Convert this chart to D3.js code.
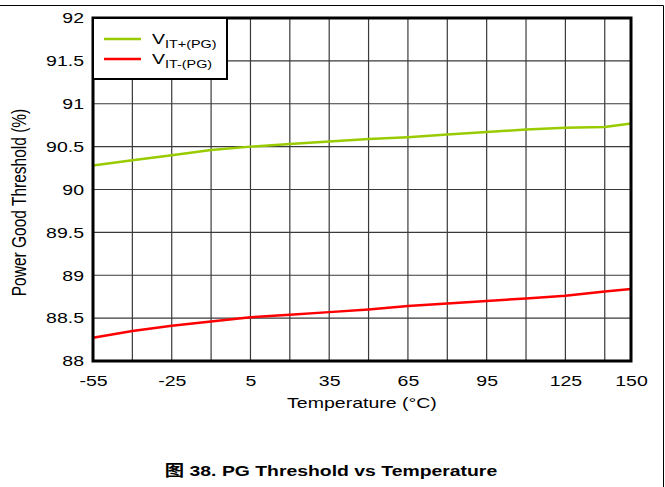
<!DOCTYPE html>
<html>
<head>
<meta charset="utf-8">
<script src="https://cdn.jsdelivr.net/npm/d3@7"></script>
<style>
  body { margin: 0; background: #fff; }
  text { font-family: "Liberation Sans", Arial, sans-serif; fill: #000; }
</style>
</head>
<body>
<div id="chart"></div>
<script>
// data
var temps = [-55, -40, -25, -10, 5, 20, 35, 50, 65, 80, 95, 110, 125, 140, 150];
var vitPlus = [90.28, 90.34, 90.40, 90.46, 90.50, 90.53, 90.56, 90.59, 90.61, 90.64, 90.67, 90.70, 90.72, 90.73, 90.77];
var vitMinus = [88.27, 88.35, 88.41, 88.46, 88.51, 88.54, 88.57, 88.60, 88.64, 88.67, 88.70, 88.73, 88.76, 88.81, 88.84];
var xTicks = [-55, -25, 5, 35, 65, 95, 125, 150];
var xGrid = [-40, -25, -10, 5, 20, 35, 50, 65, 80, 95, 110, 125, 140];
var yTicks = [88, 88.5, 89, 89.5, 90, 90.5, 91, 91.5, 92];

(function(){
  var W = 665, H = 487;
  var margin = {left: 93, top: 18, right: 34, bottom: 126};
  var width = W - margin.left - margin.right,
      height = H - margin.top - margin.bottom;
  var SX = 1.3; // the source text is drawn wide

  // widen horizontal text to match the reference
  function stretch(sel, f) {
    sel.each(function(){
      var len = this.getComputedTextLength();
      d3.select(this).attr("textLength", len * f).attr("lengthAdjust", "spacingAndGlyphs");
    });
  }

  var svg = d3.select("#chart").append("svg")
      .attr("width", W).attr("height", H);

  // outer frame (top + right edge)
  svg.append("line").attr("x1", 0).attr("x2", 663.5).attr("y1", 5.5).attr("y2", 5.5)
    .attr("stroke", "#000").attr("stroke-width", 1);
  svg.append("line").attr("x1", 663.5).attr("x2", 663.5).attr("y1", 5.5).attr("y2", H)
    .attr("stroke", "#000").attr("stroke-width", 1);

  var g = svg.append("g")
      .attr("transform", "translate(" + margin.left + "," + margin.top + ")");

  var x = d3.scaleLinear().domain([-55, 150]).range([0, width]);
  var y = d3.scaleLinear().domain([88, 92]).range([height, 0]);

  ///////////////////// grid
  g.append("g")
    .selectAll("line.v").data(xGrid).enter().append("line")
      .attr("x1", function(d){ return x(d); }).attr("x2", function(d){ return x(d); })
      .attr("y1", 0).attr("y2", height)
      .attr("stroke", "#3a3a3a").attr("stroke-width", 1.2);
  g.append("g")
    .selectAll("line.h").data(yTicks.slice(1, -1)).enter().append("line")
      .attr("x1", 0).attr("x2", width)
      .attr("y1", function(d){ return y(d); }).attr("y2", function(d){ return y(d); })
      .attr("stroke", "#3a3a3a").attr("stroke-width", 1.2);

  ///////////////////// lines
  var line = d3.line()
    .x(function(d){ return x(d[0]); })
    .y(function(d){ return y(d[1]); });

  g.append("path")
    .datum(d3.zip(temps, vitPlus))
    .attr("fill", "none").attr("stroke", "#99cc00").attr("stroke-width", 2.5)
    .attr("d", line);
  g.append("path")
    .datum(d3.zip(temps, vitMinus))
    .attr("fill", "none").attr("stroke", "#ff0000").attr("stroke-width", 2.5)
    .attr("d", line);

  ///////////////////// plot border
  g.append("rect")
    .attr("x", 0).attr("y", 0).attr("width", width).attr("height", height)
    .attr("fill", "none").attr("stroke", "#000").attr("stroke-width", 3);

  ///////////////////// axes (labels only)
  var xAxis = g.append("g")
    .attr("transform", "translate(0," + height + ")")
    .call(d3.axisBottom(x).tickValues(xTicks).tickSize(0).tickPadding(14)
      .tickFormat(function(d){ return String(d); }));
  xAxis.select(".domain").remove();
  xAxis.selectAll("text").style("font-size", "15px")
    .style("font-family", "'Liberation Sans', Arial, sans-serif").attr("fill", "#000")
    .call(stretch, SX);

  var yAxis = g.append("g")
    .call(d3.axisLeft(y).tickValues(yTicks).tickSize(0).tickPadding(9)
      .tickFormat(function(d){ return String(d); }));
  yAxis.select(".domain").remove();
  yAxis.selectAll("text").style("font-size", "15px")
    .style("font-family", "'Liberation Sans', Arial, sans-serif").attr("fill", "#000")
    .attr("text-anchor", "end")
    .attr("x", 0)
    .attr("transform", "translate(-9,0) scale(" + SX + ",1)");

  // axis titles
  svg.append("text")
    .attr("x", margin.left + width / 2).attr("y", 408)
    .attr("text-anchor", "middle").style("font-size", "15px")
    .text("Temperature (°C)")
    .call(stretch, SX);
  svg.append("text")
    .attr("transform", "translate(26," + (margin.top + height / 2 + 13) + ") scale(" + SX + ",1) rotate(-90)")
    .attr("text-anchor", "middle").style("font-size", "15.5px")
    .text("Power Good Threshold (%)");

  ///////////////////// legend
  var leg = g.append("g");
  leg.append("rect")
    .attr("x", 0).attr("y", 0).attr("width", 134).attr("height", 61)
    .attr("fill", "#fff").attr("stroke", "#000").attr("stroke-width", 2);
  var items = [{name: "IT+(PG)", color: "#99cc00"}, {name: "IT-(PG)", color: "#ff0000"}];
  items.forEach(function(it, i){
    var yy = 21 + i * 20;
    leg.append("line")
      .attr("x1", 11).attr("x2", 48).attr("y1", yy).attr("y2", yy)
      .attr("stroke", it.color).attr("stroke-width", 2.5);
    leg.append("text").attr("x", 59).attr("y", yy + 5).style("font-size", "15px")
      .text("V").call(stretch, SX);
    leg.append("text").attr("x", 72).attr("y", yy + 9).style("font-size", "11.5px")
      .text(it.name).call(stretch, 1.25);
  });

  ///////////////////// caption
  svg.append("text")
    .attr("x", 331).attr("y", 476)
    .attr("text-anchor", "middle")
    .style("font-size", "15.5px").style("font-weight", "bold")
    .style("font-family", "'Liberation Sans', Arial, 'Noto Sans CJK SC', sans-serif")
    .text("图 38. PG Threshold vs Temperature")
    .call(stretch, 1.25);
})();
</script>
</body>
</html>
